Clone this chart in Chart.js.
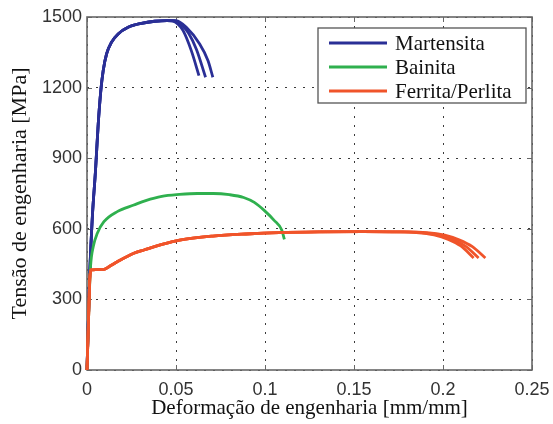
<!DOCTYPE html>
<html><head><meta charset="utf-8">
<script src="https://cdn.jsdelivr.net/npm/chart.js@4.4.0/dist/chart.umd.min.js"></script>
<style>html,body{margin:0;padding:0;background:#fff;}</style>
</head><body>
<canvas id="c" width="553" height="424"></canvas>
<script>
// ---- data ----
const xTickLabels = ['0', '0.05', '0.1', '0.15', '0.2', '0.25'];
const yTickLabels = ['0', '300', '600', '900', '1200', '1500'];
const legendLabels = ['Martensita', 'Bainita', 'Ferrita/Perlita'];

// Martensita (three tests)
const mart1Strain = [0, 0.0015, 0.003, 0.0048, 0.0063, 0.0078, 0.0091, 0.011, 0.0138, 0.0175, 0.0231, 0.0306, 0.038, 0.045, 0.048, 0.051, 0.054, 0.0586, 0.0629];
const mart1Stress = [0, 400, 650, 850, 1045, 1190, 1272, 1343, 1393, 1428, 1456, 1473, 1482, 1485, 1483, 1470, 1442, 1357, 1251];
const mart2Strain = [0, 0.0015, 0.003, 0.0048, 0.0063, 0.0078, 0.0091, 0.011, 0.0138, 0.0175, 0.0231, 0.0306, 0.038, 0.045, 0.049, 0.053, 0.057, 0.0615, 0.0666];
const mart2Stress = [0, 400, 650, 850, 1045, 1190, 1272, 1343, 1393, 1428, 1456, 1473, 1482, 1485, 1484, 1466, 1432, 1362, 1244];
const mart3Strain = [0, 0.0015, 0.003, 0.0048, 0.0063, 0.0078, 0.0091, 0.011, 0.0138, 0.0175, 0.0231, 0.0306, 0.038, 0.045, 0.050, 0.0558, 0.0633, 0.068, 0.0707];
const mart3Stress = [0, 400, 650, 850, 1045, 1190, 1272, 1343, 1393, 1428, 1456, 1473, 1482, 1485, 1484, 1456, 1385, 1314, 1244];

// Bainita
const bainStrain = [0, 0.0012, 0.002, 0.0035, 0.0058, 0.0095, 0.017, 0.0263, 0.033, 0.042, 0.052, 0.062, 0.071, 0.08, 0.088, 0.094, 0.1, 0.105, 0.1094, 0.1109];
const bainStress = [0, 300, 440, 524, 581, 630, 673, 701, 720, 738, 746, 750, 750, 745, 733, 712, 675, 637, 595, 555];

// Ferrita/Perlita (three tests)
const ferr1Strain = [0, 0.0008, 0.0016, 0.0022, 0.0095, 0.0125, 0.017, 0.0263, 0.032, 0.0427, 0.052, 0.0707, 0.0894, 0.108, 0.13, 0.155, 0.175, 0.185, 0.195, 0.203, 0.210, 0.2172];
const ferr1Stress = [0, 200, 390, 425, 428, 440, 460, 496, 510, 535, 552, 569, 578, 584, 587, 588, 587, 584, 574, 555, 527, 476];
const ferr2Strain = [0, 0.0008, 0.0016, 0.0022, 0.0095, 0.0125, 0.017, 0.0263, 0.032, 0.0427, 0.052, 0.0707, 0.0894, 0.108, 0.13, 0.155, 0.175, 0.188, 0.198, 0.206, 0.213, 0.220];
const ferr2Stress = [0, 200, 390, 425, 428, 440, 460, 496, 510, 535, 552, 569, 578, 584, 587, 588, 587, 584, 573, 553, 524, 476];
const ferr3Strain = [0, 0.0008, 0.0016, 0.0022, 0.0095, 0.0125, 0.017, 0.0263, 0.032, 0.0427, 0.052, 0.0707, 0.0894, 0.108, 0.13, 0.155, 0.175, 0.191, 0.201, 0.209, 0.2165, 0.2238];
const ferr3Stress = [0, 200, 390, 425, 428, 440, 460, 496, 510, 535, 552, 569, 578, 584, 587, 588, 587, 584, 573, 553, 524, 476];

// ---- styling ----
const BLUE = '#2a2f96', GREEN = '#2fb04e', RED = '#f0542a';
const legendColors = [BLUE, GREEN, RED];

function pts(xs, ys) { return xs.map((v, i) => ({x: v, y: ys[i]})); }
function ds(xs, ys, color, order) {
  return {data: pts(xs, ys), borderColor: color, backgroundColor: color, borderWidth: 2.8,
    pointRadius: 0, fill: false, cubicInterpolationMode: 'monotone', order: order, clip: 2};
}

const datasets = [
  ds(mart1Strain, mart1Stress, BLUE, 2),
  ds(mart2Strain, mart2Stress, BLUE, 2),
  ds(mart3Strain, mart3Stress, BLUE, 2),
  ds(bainStrain, bainStress, GREEN, 1),
  ds(ferr1Strain, ferr1Stress, RED, 0),
  ds(ferr2Strain, ferr2Stress, RED, 0),
  ds(ferr3Strain, ferr3Stress, RED, 0)
];

const frameColor = '#676767';

const framePlugin = {
  id: 'frame',
  beforeDatasetsDraw(chart) {
    const {ctx, chartArea: {left, right, top, bottom}, scales: {x, y}} = chart;
    ctx.save();
    ctx.strokeStyle = frameColor;
    ctx.lineWidth = 1;
    ctx.beginPath();
    x.ticks.forEach(t => {
      const px = Math.round(x.getPixelForValue(t.value)) + 0.5;
      ctx.moveTo(px, bottom); ctx.lineTo(px, bottom - 5);
      ctx.moveTo(px, top); ctx.lineTo(px, top + 5);
    });
    y.ticks.forEach(t => {
      const py = Math.round(y.getPixelForValue(t.value)) + 0.5;
      ctx.moveTo(left, py); ctx.lineTo(left + 5, py);
      ctx.moveTo(right, py); ctx.lineTo(right - 5, py);
    });
    ctx.stroke();
    ctx.lineWidth = 1.6;
    ctx.strokeRect(left, top, right - left, bottom - top);
    ctx.restore();
  },
  afterDatasetsDraw(chart) {
    const {ctx, chartArea: {right, top}} = chart;
    const bx = right - 214, by = top + 11, bw = 208, bh = 75;
    ctx.save();
    ctx.fillStyle = '#fff';
    ctx.fillRect(bx, by, bw, bh);
    ctx.strokeStyle = '#555';
    ctx.lineWidth = 1.3;
    ctx.strokeRect(bx, by, bw, bh);
    ctx.font = '21px "Liberation Serif", "Times New Roman", serif';
    ctx.textBaseline = 'middle';
    ctx.textAlign = 'left';
    legendLabels.forEach((lab, i) => {
      const yy = by + 15 + i * 24;
      ctx.strokeStyle = legendColors[i];
      ctx.lineWidth = 3;
      ctx.beginPath(); ctx.moveTo(bx + 11, yy); ctx.lineTo(bx + 69, yy); ctx.stroke();
      ctx.fillStyle = '#111';
      ctx.fillText(lab, bx + 77, yy + 1);
    });
    ctx.restore();
  }
};

const tickFont = {family: '"Liberation Sans", Arial, sans-serif', size: 18};

new Chart(document.getElementById('c'), {
  type: 'line',
  data: {datasets},
  plugins: [framePlugin],
  options: {
    responsive: false,
    animation: false,
    layout: {padding: {left: 0, top: 17, right: 21, bottom: 0}},
    plugins: {legend: {display: false}, tooltip: {enabled: false}},
    scales: {
      x: {
        type: 'linear', min: 0, max: 0.25,
        afterFit(s) { s.height = 54; s.paddingLeft = 0; s.paddingRight = 0; },
        ticks: {stepSize: 0.05, color: '#333', font: tickFont, padding: 9, maxRotation: 0,
          callback: (v, i) => xTickLabels[i]},
        grid: {color: '#3a3a3a', lineWidth: 1, drawTicks: false},
        border: {display: false, dash: [2, 7]},
        title: {display: true, text: 'Deformação de engenharia [mm/mm]', color: '#111',
          font: {family: '"Liberation Serif", "Times New Roman", serif', size: 21}, padding: {top: 0, bottom: 3}}
      },
      y: {
        type: 'linear', min: 0, max: 1500,
        afterFit(s) { s.width = 87; s.paddingTop = 0; s.paddingBottom = 0; },
        ticks: {stepSize: 300, color: '#333', font: tickFont, padding: 5,
          callback: (v, i) => yTickLabels[i]},
        grid: {color: '#3a3a3a', lineWidth: 1, drawTicks: false},
        border: {display: false, dash: [2, 7]},
        title: {display: true, text: 'Tensão de engenharia [MPa]', color: '#111',
          font: {family: '"Liberation Serif", "Times New Roman", serif', size: 22}, padding: {top: 7, bottom: 0}}
      }
    }
  }
});
</script>
</body></html>
